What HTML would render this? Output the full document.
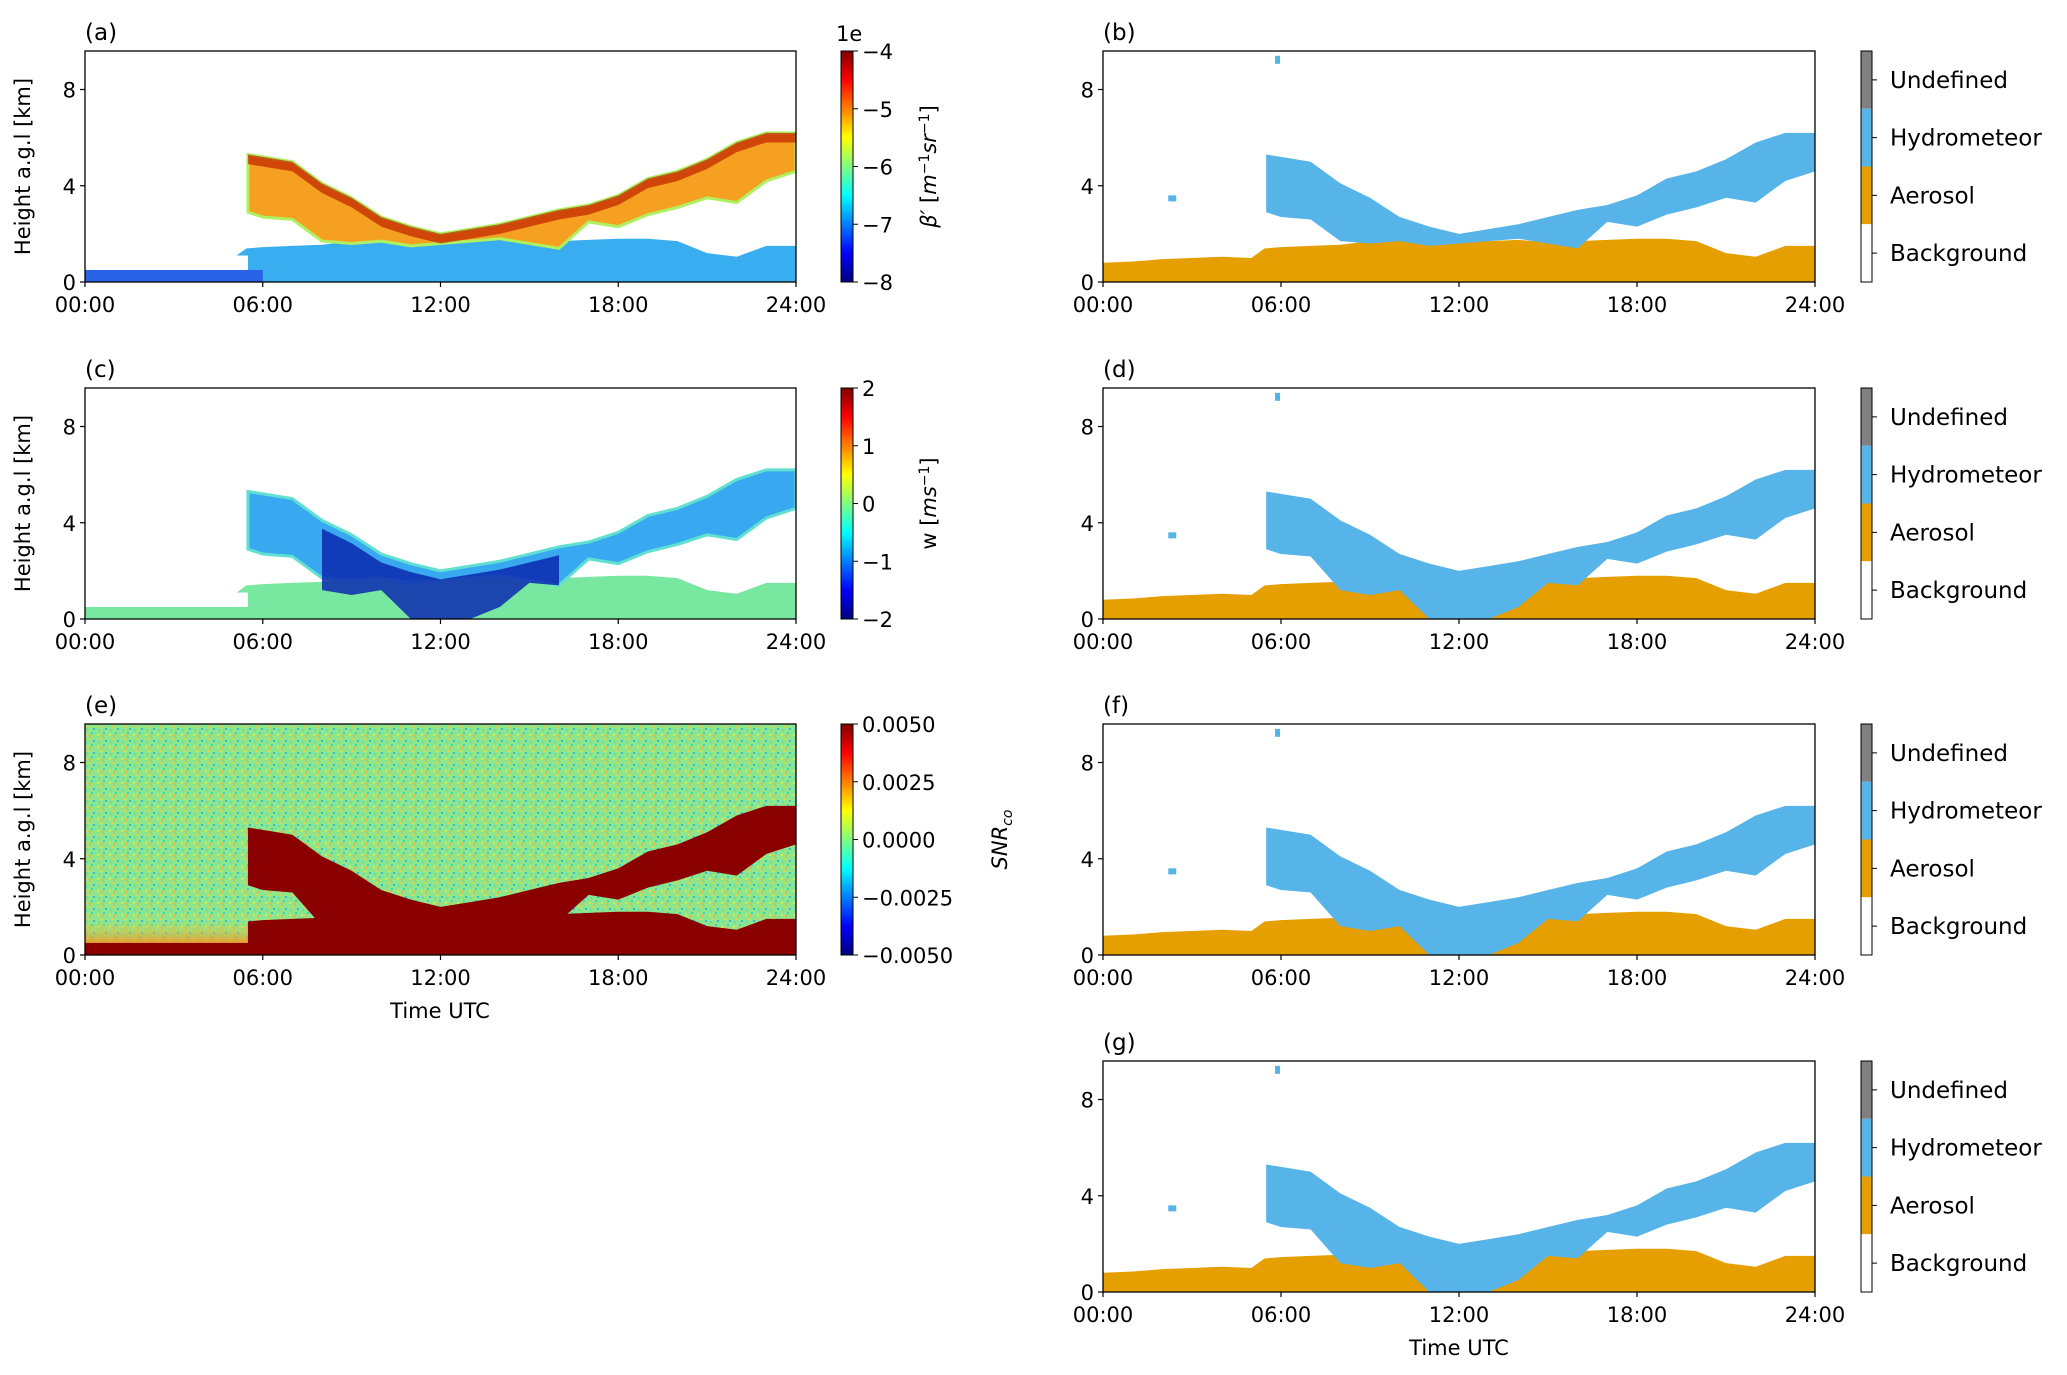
<!DOCTYPE html>
<html><head><meta charset="utf-8"><style>
html,body{margin:0;padding:0;background:#fff}
svg{display:block;font-family:"DejaVu Sans","Liberation Sans",sans-serif}
</style></head><body>
<svg id="fig" width="2067" height="1375" viewBox="0 0 2067 1375" xmlns="http://www.w3.org/2000/svg">
<defs>
<linearGradient id="jet" x1="0" y1="0" x2="0" y2="1">
<stop offset="0" stop-color="#800000"/><stop offset="0.125" stop-color="#ff0000"/><stop offset="0.375" stop-color="#ffff00"/><stop offset="0.5" stop-color="#80ff80"/><stop offset="0.625" stop-color="#00ffff"/><stop offset="0.875" stop-color="#0000ff"/><stop offset="1" stop-color="#000080"/>
</linearGradient>
<pattern id="noise" width="12" height="12" patternUnits="userSpaceOnUse">
<rect width="12" height="12" fill="#8ee68c"/>
<rect x="1" y="2" width="2" height="2" fill="#d8e850"/><rect x="7" y="0" width="2" height="2" fill="#40d0c0"/>
<rect x="4" y="6" width="2" height="2" fill="#e8d040"/><rect x="9" y="8" width="2" height="2" fill="#30b8e0"/>
<rect x="2" y="9" width="2" height="2" fill="#60e0b0"/><rect x="6" y="3" width="1" height="2" fill="#f0a030"/>
</pattern>
<linearGradient id="glow" x1="0" y1="0" x2="0" y2="1"><stop offset="0" stop-color="#c8e060" stop-opacity="0"/><stop offset="1" stop-color="#f09020"/></linearGradient>
</defs>
</svg>
<script>
// ---- data ----
const hours = [0,1,2,3,4,5,5.45,5.5,6,7,8,9,10,11,12,13,14,15,16,17,18,19,20,21,22,23,24];
const aerosolTop = [0.8,0.85,0.95,1.0,1.05,1.0,1.4,1.4,1.45,1.5,1.55,1.7,1.75,1.8,1.75,1.7,1.75,1.65,1.7,1.75,1.8,1.8,1.7,1.2,1.05,1.5,1.5];
const cloudBase = [0,0,0,0,0,0,0,2.9,2.7,2.6,1.7,1.6,1.7,1.5,1.6,1.7,1.8,1.6,1.4,2.5,2.3,2.8,3.1,3.5,3.3,4.2,4.6];
const cloudTop  = [0,0,0,0,0,0,0,5.3,5.2,5.0,4.1,3.5,2.7,2.3,2.0,2.2,2.4,2.7,3.0,3.2,3.6,4.3,4.6,5.1,5.8,6.2,6.2];
const lowerBase = [0,0,0,0,0,0,0,2.9,2.7,2.6,1.2,1.0,1.2,0,0,0,0.5,1.5,1.4,2.5,2.3,2.8,3.1,3.5,3.3,4.2,4.6];
const xTickLabels = ["00:00","06:00","12:00","18:00","24:00"];
const yTickValues = [0,4,8];
const cbA = ["−4","−5","−6","−7","−8"];
const cbC = ["2","1","0","−1","−2"];
const cbE = ["0.0050","0.0025","0.0000","−0.0025","−0.0050"];
const classes = ["Undefined","Hydrometeor","Aerosol","Background"];
const classColors = ["#808080","#56b4e9","#e69f00","#ffffff"];

const svg = document.getElementById('fig');
const NS = 'http://www.w3.org/2000/svg';
const H = 231, YMAX = 9.6, FS = 21;
const rowTop = r => Math.round(51 + 336.5*r);
function el(tag, attrs, parent){const e=document.createElementNS(NS,tag);for(const k in attrs)e.setAttribute(k,attrs[k]);(parent||svg).appendChild(e);return e;}
function txt(s, attrs, parent){const e=el('text',attrs,parent);e.textContent=s;return e;}

function makePanel(label, col, row, kind){
  const x0 = col===0?85:1103, x1 = col===0?796:1815, top=rowTop(row), bot=top+H;
  const xs = h => x0 + (x1-x0)*h/24;
  const ys = k => bot - k*H/YMAX;
  const g = el('g',{});
  
  
  const clip = el('clipPath',{id:'clip'+label},g);
  el('rect',{x:x0,y:top,width:x1-x0,height:H},clip);
  const plot = el('g',{'clip-path':'url(#clip'+label+')'},g);
  
  
  const band = (lo, hi, hmin, hmax) => {
    hmin = hmin===undefined?-1:hmin; hmax = hmax===undefined?99:hmax;
    const idx = hours.map((h,i)=>i).filter(i=>hours[i]>=hmin&&hours[i]<=hmax);
    let p = idx.map(i=>xs(hours[i])+','+ys(hi[i])).join(' ');
    p += ' ' + idx.slice().reverse().map(i=>xs(hours[i])+','+ys(lo[i])).join(' ');
    return p;
  };
  const zeros = hours.map(()=>0);
  const base = (kind==='cls1'||kind==='a') ? cloudBase : lowerBase;
  if(kind==='a'||kind==='c'||kind==='e'){
    if(kind==='e') el('rect',{x:x0,y:top,width:x1-x0,height:H,fill:'url(#noise)'},plot);
    if(kind==='e'){ el('rect',{x:x0,y:ys(1.5),width:xs(6)-x0,height:ys(0.4)-ys(1.5),fill:'url(#glow)'},plot); }
    const aFill = kind==='a'?'#38aef0':kind==='c'?'#78e8a0':'#8a0000';
    const aer = el('polygon',{points:band(zeros,aerosolTop,kind==='e'?5.5:-1),fill:aFill},plot);
    
    
    if(kind==='a'){
      el('rect',{x:x0,y:ys(0.5),width:xs(6)-x0,height:ys(0)-ys(0.5),fill:'#2a62e6'},plot);
      el('rect',{x:x0,y:ys(1.1),width:xs(5.5)-x0,height:ys(0.5)-ys(1.1),fill:'#fff'},plot);
    }
    if(kind==='c') el('rect',{x:x0,y:ys(1.1),width:xs(5.5)-x0,height:ys(0.5)-ys(1.1),fill:'#fff'},plot);
    if(kind==='e') el('rect',{x:x0,y:ys(0.5),width:x1-x0,height:ys(0)-ys(0.5),fill:'#8a0000'},plot);
    const cFill = kind==='a'?'#f5a020':kind==='c'?'#38a8f0':'#8a0000';
    const cl = el('polygon',{points:band(kind==='e'?lowerBase:cloudBase,cloudTop,5.5),fill:cFill,stroke:kind==='a'?'#b0f060':(kind==='c'?'#60e0d0':'none'),'stroke-width':3},plot);
    
    
    if(kind==='a'){
      const mid = cloudTop.map(t=>t>0?t-0.4:0);
      el('polygon',{points:band(mid,cloudTop,5.5),fill:'#c02000','fill-opacity':0.7},plot);
    }
    if(kind==='c'){
      const mid = cloudTop.map(t=>t-0.35);
      el('polygon',{points:band(lowerBase,mid,8,16),fill:'#0c28b0','fill-opacity':0.85},plot);
    }
  } else {
    const aer = el('polygon',{points:band(zeros,aerosolTop),fill:'#e69f00'},plot);
    
    
    const cl = el('polygon',{points:band(base,cloudTop,5.5),fill:'#56b4e9'},plot);
    
    
    el('rect',{x:xs(5.8),y:ys(9.4),width:5,height:8,fill:'#56b4e9'},plot);
    el('rect',{x:xs(2.2),y:ys(3.6),width:8,height:6,fill:'#56b4e9'},plot);
  }
  el('rect',{x:x0,y:top,width:x1-x0,height:H,fill:'none',stroke:'#000','stroke-width':1.3},g);
  txt('('+label+')',{x:x0,y:top-11,'font-size':23},g);
  xTickLabels.forEach((s,i)=>{const x=xs(i*6);el('line',{x1:x,x2:x,y1:bot,y2:bot+5,stroke:'#000','stroke-width':1.2},g);
    const t=txt(s,{x:x,y:bot+30,'font-size':FS,'text-anchor':'middle'},g);
    });
  yTickValues.forEach(v=>{const y=ys(v);el('line',{x1:x0-5,x2:x0,y1:y,y2:y,stroke:'#000','stroke-width':1.2},g);
    const t=txt(String(v),{x:x0-9,y:y+8,'font-size':FS,'text-anchor':'end'},g);
    });
  if(col===0){const t=txt('Height a.g.l [km]',{x:30,y:top+H/2,'font-size':FS,'text-anchor':'middle',transform:'rotate(-90 30 '+(top+H/2)+')'},g);
    }
  const cb = el('g',{},g);
  
  
  if(col===0){
    const cx=841,cw=12;
    el('rect',{x:cx,y:top,width:cw,height:H,fill:'url(#jet)',stroke:'#000','stroke-width':1},cb);
    const labs = kind==='a'?cbA:kind==='c'?cbC:cbE;
    labs.forEach((s,i)=>{const y=top+H*i/4;el('line',{x1:cx+cw,x2:cx+cw+5,y1:y,y2:y,stroke:'#000'},cb);
      txt(s,{x:cx+cw+9,y:y+8,'font-size':FS},cb);});
    const lx = kind==='e'?1007:936, cy=top+H/2;
    if(kind==='a'){ txt('1e',{x:836,y:top-10,'font-size':FS},cb);
      const t=txt('',{x:lx,y:cy,'font-size':FS,'text-anchor':'middle',transform:'rotate(-90 '+lx+' '+cy+')'},cb);
      t.innerHTML='<tspan font-style="italic">β′</tspan>  [<tspan font-style="italic">m</tspan><tspan dy="-7" font-size="14">−1</tspan><tspan dy="7" font-style="italic">sr</tspan><tspan dy="-7" font-size="14">−1</tspan><tspan dy="7">]</tspan>';}
    else if(kind==='c'){const t=txt('',{x:lx,y:cy,'font-size':FS,'text-anchor':'middle',transform:'rotate(-90 '+lx+' '+cy+')'},cb);
      t.innerHTML='w [<tspan font-style="italic">ms</tspan><tspan dy="-7" font-size="14">−1</tspan><tspan dy="7">]</tspan>';}
    else {const t=txt('',{x:lx,y:cy,'font-size':FS,'text-anchor':'middle',transform:'rotate(-90 '+lx+' '+cy+')'},cb);
      t.innerHTML='<tspan font-style="italic">SNR</tspan><tspan dy="5" font-size="14" font-style="italic">co</tspan>';}
  } else {
    const cx=1861,cw=11;
    classes.forEach((c,i)=>{const y=top+H*i/4;
      el('rect',{x:cx,y:y,width:cw,height:H/4,fill:classColors[i]},cb);
      el('line',{x1:cx+cw,x2:cx+cw+5,y1:y+H/8,y2:y+H/8,stroke:'#000'},cb);
      const t=txt(c,{x:1890,y:y+H/8+8,'font-size':23},cb);
      });
    el('rect',{x:cx,y:top,width:cw,height:H,fill:'none',stroke:'#000','stroke-width':1},cb);
  }
}
makePanel('a',0,0,'a');
makePanel('c',0,1,'c');
makePanel('e',0,2,'e');
makePanel('b',1,0,'cls1');
makePanel('d',1,1,'cls');
makePanel('f',1,2,'cls');
makePanel('g',1,3,'cls');
const t1=txt('Time UTC',{x:440,y:rowTop(2)+H+63,'font-size':FS,'text-anchor':'middle'});

const t2=txt('Time UTC',{x:1459,y:rowTop(3)+H+63,'font-size':FS,'text-anchor':'middle'});

</script>
</body></html>
